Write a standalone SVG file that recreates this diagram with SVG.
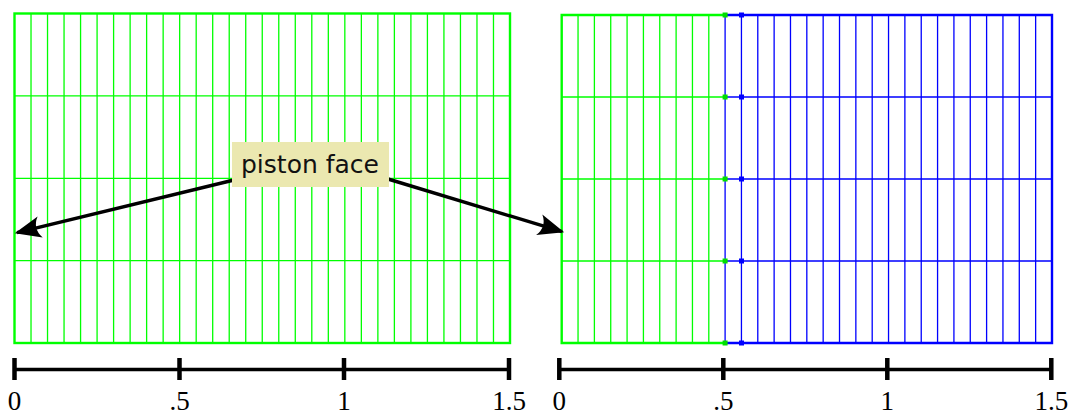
<svg xmlns="http://www.w3.org/2000/svg" width="1071" height="414" viewBox="0 0 1071 414">
<style>
.g{stroke:#00ff00;fill:none}
.b{stroke:#0000ff;fill:none}
.in{stroke-width:1.3}
.out{stroke-width:2.4}
.ax{stroke:#000;stroke-width:3.5;fill:none}
.tk{stroke:#000;stroke-width:4.5;fill:none}
.num{font-family:"Liberation Serif",serif;font-size:27px;fill:#000;text-anchor:middle}
.lbl{font-family:"DejaVu Sans","Liberation Sans",sans-serif;font-size:24px;fill:#111}
.arr{stroke:#000;stroke-width:3.4;fill:none}
</style>
<defs>
<marker id="ah" markerUnits="userSpaceOnUse" markerWidth="34" markerHeight="34" viewBox="-26 -13 30 26" refX="0" refY="0" orient="auto">
<path d="M2,0 L-21,-9.5 Q-14,0 -21,9.5 Z" fill="#000"/>
</marker>
</defs>
<g id="left-grid">
<path class="g in" d="M31.02,13.5V343M47.53,13.5V343M64.05,13.5V343M80.57,13.5V343M97.08,13.5V343M113.6,13.5V343M130.12,13.5V343M146.63,13.5V343M163.15,13.5V343M179.67,13.5V343M196.18,13.5V343M212.7,13.5V343M229.22,13.5V343M245.73,13.5V343M262.25,13.5V343M278.77,13.5V343M295.28,13.5V343M311.8,13.5V343M328.32,13.5V343M344.83,13.5V343M361.35,13.5V343M377.87,13.5V343M394.38,13.5V343M410.9,13.5V343M427.42,13.5V343M443.93,13.5V343M460.45,13.5V343M476.97,13.5V343M493.48,13.5V343M14.5,95.9H510M14.5,178.3H510M14.5,260.6H510"/>
<rect class="g out" x="14.5" y="13.5" width="495.5" height="329.5"/>
</g>
<g id="right-grid">
<path class="g in" d="M578.04,15V343M594.39,15V343M610.73,15V343M627.08,15V343M643.42,15V343M659.76,15V343M676.11,15V343M692.45,15V343M708.8,15V343M561.7,97H725.1M561.7,179H725.1M561.7,261H725.1"/>
<path class="g out" d="M725.1,15H561.7V343H725.1"/>
<path class="b in" d="M725.1,15V343M741.44,15V343M757.79,15V343M774.13,15V343M790.48,15V343M806.82,15V343M823.16,15V343M839.51,15V343M855.85,15V343M872.2,15V343M888.54,15V343M904.88,15V343M921.23,15V343M937.57,15V343M953.92,15V343M970.26,15V343M986.6,15V343M1002.95,15V343M1019.29,15V343M1035.64,15V343M725.1,97H1052M725.1,179H1052M725.1,261H1052"/>
<path class="b out" d="M725.1,15H1052V343H725.1"/>
<g fill="#00dd00">
<rect x="722.6" y="12.5" width="5" height="5"/><rect x="722.6" y="94.5" width="5" height="5"/><rect x="722.6" y="176.5" width="5" height="5"/><rect x="722.6" y="258.5" width="5" height="5"/><rect x="722.6" y="340.5" width="5" height="5"/>
</g>
<g fill="#0000ff">
<rect x="739" y="12.5" width="5" height="5"/><rect x="739" y="94.5" width="5" height="5"/><rect x="739" y="176.5" width="5" height="5"/><rect x="739" y="258.5" width="5" height="5"/><rect x="739" y="340.5" width="5" height="5"/>
</g>
</g>
<g id="left-axis">
<path class="ax" d="M14.5,369.5H509"/>
<path class="tk" d="M14.5,358V380M179.5,358V380M344,358V380M509,358V380"/>
<text class="num" x="14.5" y="410">0</text>
<text class="num" x="179.5" y="410">.5</text>
<text class="num" x="344" y="410">1</text>
<text class="num" x="509" y="410">1.5</text>
</g>
<g id="right-axis">
<path class="ax" d="M559.3,369.5H1051.3"/>
<path class="tk" d="M559.3,358V380M723.3,358V380M887.3,358V380M1051.3,358V380"/>
<text class="num" x="559.3" y="410">0</text>
<text class="num" x="723.3" y="410">.5</text>
<text class="num" x="887.3" y="410">1</text>
<text class="num" x="1051.3" y="410">1.5</text>
</g>
<g id="connectors">
<path class="arr" d="M234,180 L17,232.7" marker-end="url(#ah)"/>
<path class="arr" d="M388,179 L562,231.7" marker-end="url(#ah)"/>
</g>
<g id="label">
<rect x="232" y="142" width="157" height="45" fill="#ebe8b0"/>
<text class="lbl" x="241" y="173" textLength="138" lengthAdjust="spacingAndGlyphs">piston face</text>
</g>
</svg>
